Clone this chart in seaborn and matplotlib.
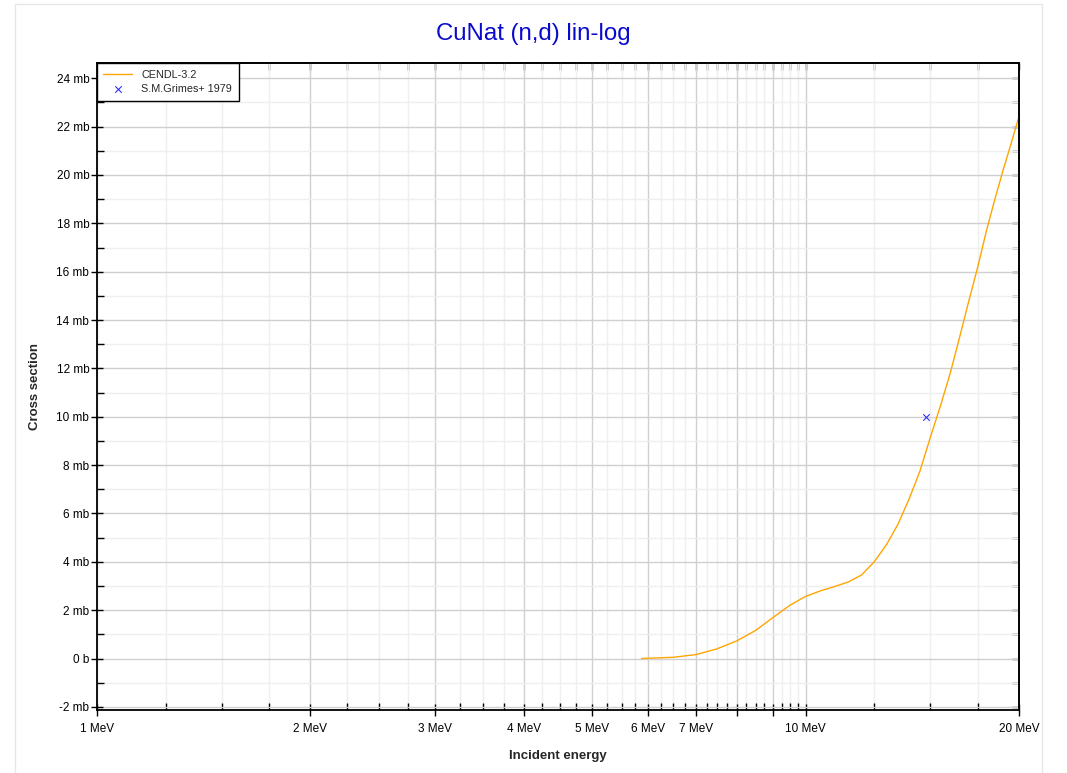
import numpy as np
import pandas as pd
import matplotlib
matplotlib.use("Agg")
import matplotlib.pyplot as plt
import matplotlib.ticker as mticker
from matplotlib.patches import Rectangle
import seaborn as sns

# CENDL-3.2 evaluation (energy in MeV, cross section in mb)
cendl_energy = [5.87, 6.5, 7.0, 7.5, 8.0, 8.5, 9.0, 9.5, 10.0, 10.5, 11.0, 11.5,
                12.0, 12.5, 13.0, 13.5, 14.0, 14.5, 15.0, 15.5, 16.0, 16.5, 17.0,
                17.5, 18.0, 18.5, 19.0, 19.5, 20.0]
cendl_xs = [0.0, 0.05, 0.16, 0.40, 0.73, 1.16, 1.70, 2.20, 2.57, 2.80, 2.98, 3.17,
            3.46, 4.0, 4.7, 5.55, 6.6, 7.75, 9.15, 10.45, 11.8, 13.3, 14.8,
            16.2, 17.7, 19.0, 20.2, 21.3, 22.4]

# experimental point
exp_energy = [14.8]
exp_xs = [10.0]

series_names = ["CENDL-3.2", "S.M.Grimes+ 1979"]
title = "CuNat (n,d) lin-log"

df_eval = pd.DataFrame({"energy": cendl_energy, "xs": cendl_xs})
df_exp = pd.DataFrame({"energy": exp_energy, "xs": exp_xs})

sns.set_style("white")
plt.rcParams['font.family'] = ['Liberation Sans', 'DejaVu Sans']

fig = plt.figure(figsize=(10.67, 7.73), dpi=100)
ax = fig.add_axes([0.0909, 0.0815, 0.864, 0.8366])

# light frame round the chart
fig.patches.append(Rectangle((0.014, -0.02), 0.9626, 1.0148, transform=fig.transFigure,
                             fill=False, edgecolor="#e6e6e6", linewidth=1, zorder=0))

sns.lineplot(data=df_eval, x="energy", y="xs", ax=ax, color="#ffa500", linewidth=1,
             label=series_names[0])
sns.scatterplot(data=df_exp, x="energy", y="xs", ax=ax, marker="x", color="#3333ff",
                s=22, linewidth=0.8, label=series_names[1])

ax.set_xscale("log")
ax.set_xlim(1, 20)
ax.set_ylim(-2.13, 24.62)

major_x = [1, 2, 3, 4, 5, 6, 7, 8, 9, 10, 20]
minor_x = []
for a, b in zip(major_x[:-1], major_x[1:]):
    step = (b - a) / 4
    minor_x += [a + step * k for k in (1, 2, 3)]
ax.xaxis.set_major_locator(mticker.FixedLocator(major_x))
ax.xaxis.set_minor_locator(mticker.FixedLocator(minor_x))
ax.xaxis.set_major_formatter(mticker.FuncFormatter(
    lambda v, p: "" if v in (8, 9) else f"{int(round(v))} MeV"))
ax.xaxis.set_minor_formatter(mticker.NullFormatter())

ax.yaxis.set_major_locator(mticker.MultipleLocator(2))
ax.yaxis.set_minor_locator(mticker.MultipleLocator(1))
ax.yaxis.set_major_formatter(mticker.FuncFormatter(
    lambda v, p: "0 b" if abs(v) < 1e-9 else f"{int(round(v))} mb"))

ax.grid(which="major", color="#d0d0d0", linewidth=1)
ax.grid(which="minor", color="#efefef", linewidth=1)
ax.set_axisbelow(True)

for s in ax.spines.values():
    s.set_color("black")
    s.set_linewidth(1.3)

ax.tick_params(which="both", bottom=True, left=True, top=False, right=False)
ax.tick_params(which="major", direction="inout", length=9, width=1, labelsize=8.5,
               colors="black")
ax.tick_params(axis="x", which="major", pad=5)
ax.tick_params(axis="y", which="major", pad=1)
ax.tick_params(which="minor", direction="in", length=5, width=1, colors="black")

# mirrored ticks on top and right
top = ax.secondary_xaxis("top")
top.set_xscale("log")
top.xaxis.set_major_locator(mticker.FixedLocator(major_x))
top.xaxis.set_minor_locator(mticker.FixedLocator(minor_x))
top.tick_params(which="both", top=True, direction="in", length=5, width=1,
                labeltop=False, colors="black")
top.spines["top"].set_linewidth(1.3)
right = ax.secondary_yaxis("right")
right.yaxis.set_major_locator(mticker.MultipleLocator(2))
right.yaxis.set_minor_locator(mticker.MultipleLocator(1))
right.tick_params(which="both", right=True, direction="in", length=5, width=1,
                  labelright=False, colors="black")
right.spines["right"].set_linewidth(1.3)

ax.set_xlabel("Incident energy", fontsize=9.5, fontweight="bold", labelpad=11)
ax.set_ylabel("Cross section", fontsize=9.5, fontweight="bold", labelpad=11)
fig.suptitle(title, color="#0a0acc", fontsize=17.3, y=0.97)

leg = ax.legend(loc="upper left", bbox_to_anchor=(0, 1), borderaxespad=0,
                fancybox=False, edgecolor="black", framealpha=1, fontsize=7.8,
                handlelength=2.6, labelspacing=0.4, borderpad=0.6, handletextpad=0.9)
leg.get_frame().set_linewidth(1)

fig.savefig("out.png", dpi=100)
